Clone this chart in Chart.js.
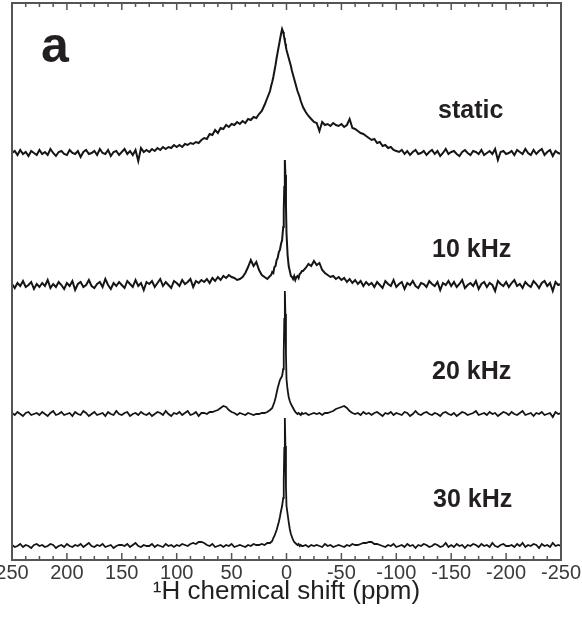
<!DOCTYPE html>
<html>
<head>
<meta charset="utf-8">
<title>1H MAS spectra</title>
<script src="https://cdn.jsdelivr.net/npm/chart.js@4.4.1/dist/chart.umd.min.js"></script>
<style>
    html, body { margin: 0; padding: 0; background: #ffffff; }
    #wrap { width: 582px; height: 617px; }
</style>
</head>
<body>
<div id="wrap"><canvas id="spectra-chart" width="582" height="617"></canvas></div>
<script>
// Chemical shift grid (ppm), finer around the centre line
const shiftPpm = [
    250, 247.5, 245, 242.5, 240, 237.5, 235, 232.5, 230, 227.5,
    225, 222.5, 220, 217.5, 215, 212.5, 210, 207.5, 205, 202.5,
    200, 197.5, 195, 192.5, 190, 187.5, 185, 182.5, 180, 177.5,
    175, 172.5, 170, 167.5, 165, 162.5, 160, 157.5, 155, 152.5,
    150, 147.5, 145, 142.5, 140, 137.5, 135, 132.5, 130, 127.5,
    125, 122.5, 120, 117.5, 115, 112.5, 110, 107.5, 105, 102.5,
    100, 97.5, 95, 92.5, 90, 87.5, 85, 82.5, 80, 77.5,
    75, 72.5, 70, 67.5, 65, 62.5, 60, 57.5, 55, 52.5,
    50, 47.5, 45, 42.5, 40, 37.5, 35, 32.5, 30, 27.5,
    25, 22.5, 20, 17.5, 15,
    14, 13, 12, 11, 10, 9, 8, 7, 6, 5, 4, 3, 2.5, 2, 1.5, 1, 0.5, 0,
    -1, -2, -3, -4, -5, -6, -7, -8, -9, -10, -11, -12, -13, -14,
    -15, -17.5, -20, -22.5, -25,
    -27.5, -30, -32.5, -35, -37.5, -40, -42.5, -45, -47.5, -50,
    -52.5, -55, -57.5, -60, -62.5, -65, -67.5, -70, -72.5, -75,
    -77.5, -80, -82.5, -85, -87.5, -90, -92.5, -95, -97.5, -100,
    -102.5, -105, -107.5, -110, -112.5, -115, -117.5, -120, -122.5, -125,
    -127.5, -130, -132.5, -135, -137.5, -140, -142.5, -145, -147.5, -150,
    -152.5, -155, -157.5, -160, -162.5, -165, -167.5, -170, -172.5, -175,
    -177.5, -180, -182.5, -185, -187.5, -190, -192.5, -195, -197.5, -200,
    -202.5, -205, -207.5, -210, -212.5, -215, -217.5, -220, -222.5, -225,
    -227.5, -230, -232.5, -235, -237.5, -240, -242.5, -245, -247.5, -250
];

// Intensities (a.u.), same order as shiftPpm
const staticInt = [
    0, 2, -2, 3, -1, 1, -3, 2, 0, -2,
    3, -1, 1, -2, 4, 0, -3, 1, 2, -1,
    -2, 3, 0, -1, 2, -4, 1, 3, -1, 0,
    2, -2, 4, 0, -1, 3, -3, 1, 2, -2,
    1, 4, -1, 2, -2, 3, -8, 5, 1, 3,
    1, 4, 2, 5, 3, 6, 4, 6, 5, 8,
    6, 8, 6, 9, 8, 10, 9, 11, 10, 13,
    15, 14, 19, 18, 23, 20, 25, 24, 28, 26,
    29, 28, 31, 29, 32, 30, 34, 33, 36, 35,
    39, 42, 48, 55, 62,
    67, 71, 76, 82, 88, 95, 101, 107, 113, 119, 124, 121, 118, 115, 112, 109, 106, 103,
    99, 95, 91, 87, 82, 78, 74, 70, 66, 62, 59, 56, 52, 49,
    46, 41, 37, 34, 31,
    30, 22, 31, 28, 29, 27, 30, 28, 27, 29,
    26, 28, 34, 25, 24, 22, 20, 19, 17, 15,
    13, 14, 10, 11, 7, 8, 5, 6, 3, 2,
    1, 3, -1, 2, -2, 1, 3, -1, 0, 2,
    -2, 1, 3, -1, 2, -3, 0, 4, -1, 1,
    2, -1, -3, 1, 3, 0, -2, 2, 1, -1,
    3, -2, 0, 2, -1, 4, -7, 1, 2, -1,
    0, 2, -2, 3, 1, -1, 4, 0, -2, 3,
    -1, 2, 4, -2, 1, 3, -3, 2, 0, -1
];

const mas10Int = [
    1, -3, 2, -1, 4, -2, 0, 3, -4, 1,
    -2, 2, -1, 5, -3, 1, -2, 3, 0, -4,
    2, -1, 4, -5, 1, 3, -2, 0, 5, -1,
    -3, 1, 3, -2, 6, 0, -4, 2, -1, 3,
    0, -3, 4, 1, -2, 5, -1, 2, -5, 3,
    1, 4, -2, 2, 6, -1, 3, 0, -3, 4,
    2, -1, 5, 1, 3, 6, -2, 4, 2, 5,
    3, 6, 2, 7, 4, 8, 5, 9, 7, 10,
    8, 7, 5, 6, 8, 12, 18, 25, 19, 23,
    15, 10, 8, 6, 9,
    10, 13, 12, 18, 19, 25, 27, 33, 35, 41, 45, 58, 75, 98, 125, 110, 80, 52,
    30, 19, 14, 9, 8, 6, 9, 5, 8, 9, 7, 11, 12, 14,
    14, 17, 21, 19, 24,
    20, 22, 15, 12, 10, 8, 9, 6, 8, 5,
    7, 3, 6, 2, 5, 1, 4, -1, 3, 0,
    2, -2, 3, 0, -3, 4, 1, -1, 5, -2,
    1, 3, -4, 2, 0, 4, -1, -3, 2, 1,
    -2, 4, 1, -1, 3, -5, 2, 0, 4, -1,
    3, -2, 1, 5, -3, 0, 2, -1, 4, -4,
    1, 3, -2, 2, 0, -6, 4, 1, -1, 3,
    -2, 2, 5, -1, 1, -3, 3, 0, -2, 4,
    1, -3, 2, 4, -1, 2, -6, 3, 0, 1
];

const mas20Int = [
    1, -1, 2, 0, -2, 1, 2, -1, 0, 1,
    -1, 2, 0, -2, 1, 3, -1, 0, 2, -1,
    0, 1, -2, 2, 0, -1, 3, 1, -2, 0,
    2, -1, 0, 1, -2, 2, 0, -1, 3, 0,
    -1, 1, 2, -2, 0, 1, -1, 2, 0, -1,
    1, -2, 0, 2, 1, -1, 3, 0, -2, 1,
    0, 2, -1, 1, 3, -1, 0, 2, -2, 1,
    1, 0, 2, 2, 3, 4, 6, 8, 7, 4,
    2, 1, -1, 1, 0, -1, 1, 0, -1, 0,
    0, 1, 1, 2, 4,
    5, 6, 9, 12, 16, 21, 26, 30, 34, 36, 38, 45, 62, 95, 123, 100, 60, 35,
    24, 17, 13, 10, 8, 6, 4, 2, 1, 0, 1, 0, -1, 1,
    0, 1, -1, 0, 1,
    0, 1, -1, 1, 1, 2, 3, 5, 6, 7,
    8, 6, 3, 1, 0, 1, -1, 2, 0, 1,
    -1, 1, 2, 0, -2, 1, 0, 2, -1, 1,
    0, -1, 2, 1, -2, 0, 3, 0, -1, 1,
    2, 0, -1, 1, 0, -2, 1, 2, 0, -1,
    1, -2, 0, 2, 1, -1, 0, 1, 3, -1,
    0, 1, -1, 2, 0, 1, -2, 0, 2, 1,
    -1, 2, 0, -1, 1, 3, -1, 0, 1, -2,
    1, 0, 2, -1, 0, 1, -3, 2, 0, 1
];

const mas30Int = [
    1, -1, 0, 2, -1, 1, 0, -2, 1, 2,
    0, 1, -1, 0, 2, 1, -2, 0, 1, -1,
    2, 0, -1, 1, 0, 2, -1, 1, 3, 0,
    -1, 1, 0, 2, -1, 0, 1, -2, 0, 1,
    1, 0, 2, -1, 1, 3, 0, -1, 1, 0,
    0, 2, -1, 1, 0, -1, 2, 0, 1, -1,
    1, 0, 2, 1, 0, 2, 3, 2, 4, 4,
    3, 1, 0, 2, -1, 0, 1, -1, 1, 0,
    2, -1, 0, 1, 0, -1, 1, 0, 2, 1,
    1, 2, 1, 3, 3,
    4, 5, 8, 10, 13, 16, 20, 24, 29, 35, 40, 48, 65, 98, 128, 100, 60, 40,
    32, 24, 17, 12, 9, 6, 4, 3, 2, 1, 2, 0, 1, 0,
    0, 1, -1, 1, 0,
    1, 0, -1, 2, 0, 1, -1, 0, 1, 0,
    -1, 1, 0, 2, 1, 1, 2, 3, 3, 4,
    4, 2, 2, 1, 0, -1, 1, 0, 2, -1,
    0, 1, -1, 2, 0, 1, -2, 1, 0, 2,
    1, -1, 0, 2, 1, -1, 0, 3, -1, 1,
    -1, 2, 0, 1, -2, 1, 0, 2, 1, -1,
    2, 0, 1, -1, 3, 0, -1, 1, 2, 0,
    0, 1, -1, 2, 0, 3, -1, 1, 0, 2,
    1, -2, 2, 0, 1, -1, 3, 0, 1, 0
];

const traceLabels = ['static', '10 kHz', '20 kHz', '30 kHz'];
const traceValues = [staticInt, mas10Int, mas20Int, mas30Int];
const shiftTicks = { min: -250, max: 250, major: 50, minor: 12.5 };

// Layout (pixels)
const plotTop = 3;
const plotBottom = 560;
const traceBaseline = [153, 285, 414, 546];
const traceWidth = [2, 2, 1.8, 1.8];
const labelPos = [[438, 118], [432, 257], [432, 379], [433, 507]];

const fontFamily = '"Liberation Sans", Arial, Helvetica, sans-serif';

/**
 * Frame with inward ticks, panel letter and trace names
 */
const spectrumFrame = {
    id: 'spectrumFrame',
    afterDatasetsDraw(chart) {
        const { ctx, chartArea: area, scales } = chart;
        const x = scales.x;
        ctx.save();
        ctx.strokeStyle = '#555555';
        ctx.lineWidth = 2;
        ctx.strokeRect(area.left, area.top, area.right - area.left, area.bottom - area.top);

        ctx.lineWidth = 1.5;
        ctx.beginPath();
        for (let v = shiftTicks.min; v <= shiftTicks.max; v += shiftTicks.minor) {
            const px = x.getPixelForValue(v);
            const len = v % shiftTicks.major === 0 ? 7 : 4;
            ctx.moveTo(px, area.bottom);
            ctx.lineTo(px, area.bottom - len);
            ctx.moveTo(px, area.top);
            ctx.lineTo(px, area.top + len);
        }
        ctx.stroke();

        ctx.fillStyle = '#231f20';
        ctx.textAlign = 'left';
        ctx.textBaseline = 'alphabetic';
        ctx.font = 'bold 50px ' + fontFamily;
        ctx.fillText('a', 41, 62);

        ctx.font = 'bold 25px ' + fontFamily;
        traceLabels.forEach((text, i) => {
            ctx.fillText(text, labelPos[i][0], labelPos[i][1]);
        });
        ctx.restore();
    }
};

function buildYAxis(i) {
    return {
        type: 'linear',
        display: false,
        min: -(plotBottom - traceBaseline[i]),
        max: traceBaseline[i] - plotTop
    };
}

function createSpectraChart(ctx) {
    const datasets = traceValues.map((vals, i) => ({
        label: traceLabels[i],
        data: shiftPpm.map((ppm, j) => ({ x: ppm, y: vals[j] })),
        yAxisID: 'y' + i,
        borderColor: '#151515',
        borderWidth: traceWidth[i],
        borderJoinStyle: 'miter',
        pointRadius: 0,
        tension: 0,
        fill: false
    }));

    return new Chart(ctx, {
        type: 'line',
        data: { datasets },
        options: {
            responsive: false,
            animation: false,
            layout: {
                padding: { left: 12, right: 21, top: plotTop, bottom: 0 }
            },
            plugins: {
                legend: { display: false },
                tooltip: { enabled: false }
            },
            scales: {
                x: {
                    type: 'linear',
                    min: shiftTicks.min,
                    max: shiftTicks.max,
                    reverse: true,
                    grid: { display: false, drawTicks: false },
                    border: { display: false },
                    ticks: {
                        stepSize: shiftTicks.major,
                        maxRotation: 0,
                        autoSkip: false,
                        padding: 3,
                        color: '#3a3a3a',
                        font: { family: fontFamily, size: 20, lineHeight: 1 }
                    },
                    title: {
                        display: true,
                        text: '\u00B9H chemical shift (ppm)',
                        color: '#231f20',
                        font: { family: fontFamily, size: 26, lineHeight: 1 },
                        padding: { top: 0, bottom: 12 }
                    },
                    afterFit(scale) {
                        scale.height = 617 - plotBottom;
                        scale.paddingLeft = 0;
                        scale.paddingRight = 0;
                    }
                },
                y0: buildYAxis(0),
                y1: buildYAxis(1),
                y2: buildYAxis(2),
                y3: buildYAxis(3)
            }
        },
        plugins: [spectrumFrame]
    });
}

document.addEventListener('DOMContentLoaded', () => {
    traceValues.forEach((vals, i) => {
        if (vals.length !== shiftPpm.length) {
            console.warn(traceLabels[i] + ': ' + vals.length + ' vs ' + shiftPpm.length);
        }
    });
    createSpectraChart(document.getElementById('spectra-chart'));
});
</script>
</body>
</html>
